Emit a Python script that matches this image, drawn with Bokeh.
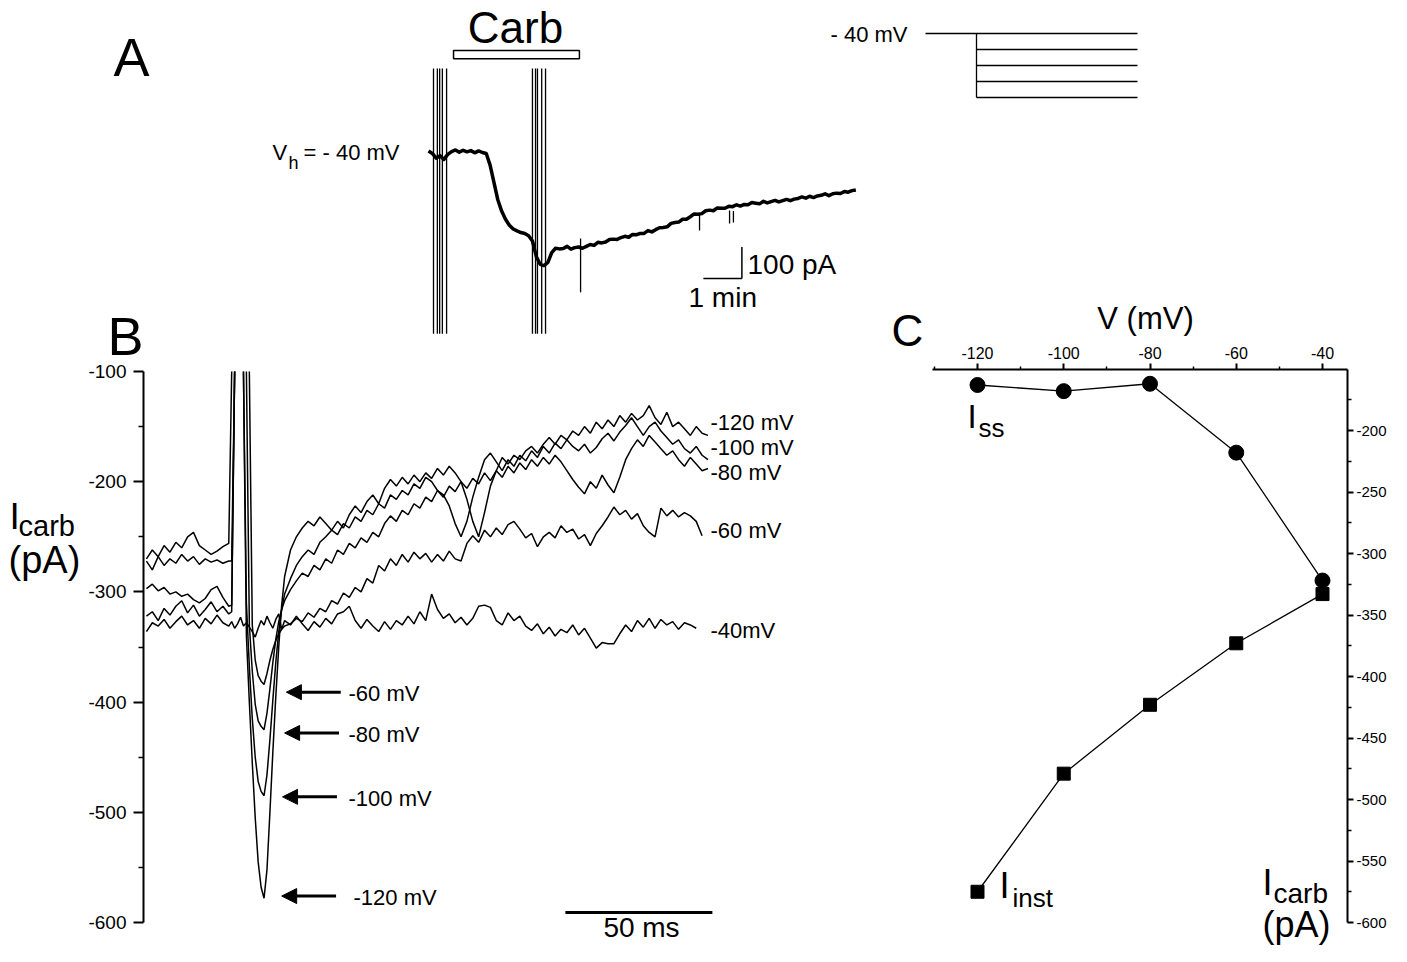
import numpy as np
from bokeh.plotting import figure
from bokeh.models import Range1d, LinearAxis, FixedTicker, Label, Arrow, NormalHead
from bokeh.embed import file_html
from bokeh.resources import INLINE

nan = float("nan")

# ---------------- Panel A: holding current (pA, relative) vs time (min) ----------------
A_t = [0.0, 0.1, 0.2, 0.3, 0.4, 0.5, 0.6, 0.7, 0.8, 0.9,
       1.0, 1.1, 1.2, 1.3, 1.4, 1.5, 1.6, 1.7, 1.8, 1.9,
       2.0, 2.1, 2.2, 2.3, 2.4, 2.5, 2.6, 2.7, 2.8, 2.9,
       3.0, 3.1, 3.2, 3.3, 3.4, 3.5, 3.6, 3.7, 3.8, 3.9,
       4.0, 4.1, 4.2, 4.3, 4.4, 4.5, 4.6, 4.7, 4.8, 4.9,
       5.0, 5.1, 5.2, 5.3, 5.4, 5.5, 5.6, 5.7, 5.8, 5.9,
       6.0, 6.1, 6.2, 6.3, 6.4, 6.5, 6.6, 6.7, 6.8, 6.9,
       7.0, 7.1, 7.2, 7.3, 7.4, 7.5, 7.6, 7.7, 7.8, 7.9,
       8.0, 8.1, 8.2, 8.3, 8.4, 8.5, 8.6, 8.7, 8.8, 8.9,
       9.0, 9.1, 9.2, 9.3, 9.4, 9.5, 9.6, 9.7, 9.8, 9.9,
       10.0, 10.1, 10.2, 10.3, 10.4, 10.5, 10.6, 10.7, 10.8, 10.9,
       11.0, 11.1]
A_i = [5, -3, -18, -10, -22, -6, 3, 8, 1, 7,
       2, 6, -1, 5, 0, -3, -40, -95, -150, -186,
       -212, -231, -243, -249, -254, -257, -264, -281, -330, -355,
       -359, -349, -318, -304, -306, -305, -298, -307, -302, -300,
       -304, -298, -292, -295, -285, -287, -284, -276, -275, -276,
       -270, -266, -269, -260, -261, -257, -257, -248, -252, -245,
       -239, -238, -236, -225, -222, -221, -212, -212, -204, -195,
       -196, -194, -185, -183, -185, -176, -177, -177, -171, -172,
       -166, -170, -165, -166, -159, -161, -163, -155, -160, -156,
       -152, -157, -153, -149, -153, -148, -146, -141, -145, -139,
       -143, -138, -136, -131, -137, -131, -129, -130, -124, -126,
       -121, -119]
A_steps_t1 = [0.13, 0.23, 0.29, 0.36, 0.47]
A_steps_t2 = [2.70, 2.78, 2.83, 2.94, 3.04]
A_steps_top, A_steps_bottom = 267, -575
A_glitch_t = [3.95, 7.04, 7.82, 7.92]
A_glitch_hi = [-273, -194, -184, -186]
A_glitch_lo = [-444, -248, -225, -222]
carb_on, carb_off = 0.65, 3.92

# voltage protocol (mV)
P_hold = -40
P_levels = [-60, -80, -100, -120]

# ---------------- Panel B: I_carb traces (pA) vs time (ms) ----------------
B_t = [1, 3, 5, 7, 9, 11, 13, 15, 17, 19, 21, 23, 25, 27, 29,
       30, 31, 32, 33, 34, 35, 36, 37, 38, 39, 40, 41, 42, 43, 44, 45, 46, 47, 48,
       50, 52, 54, 56, 58, 60, 62, 64, 66,
       68, 70, 72, 74, 76, 78, 80, 82, 84,
       86, 88, 90, 92, 94, 96, 98, 100, 102,
       104, 106, 108, 110, 112, 114, 116, 118, 120,
       122, 124, 126, 128, 130, 132, 134, 136, 138,
       140, 142, 144, 146, 148, 150, 152, 154, 156,
       158, 160, 162, 164, 166, 168, 170, 172, 174,
       176, 178, 180, 182, 184, 186, 188, 190, 192]

B_m40 = [-336, -328, -331, -325, -333, -327, -322, -330, -326, -333, -324, -329, -321, -328, -331,
         -327, -333, -329, -323, -331, -328, -332, -336, -341, -333, -326, -330, -322, -328, -333, -325, -320, -334, -326,
         -330, -322, -329, -335, -327, -332, -324, -329, -320,
         -318, -313, -326, -333, -325, -331, -336, -327, -334,
         -326, -330, -322, -329, -318, -326, -302, -316, -324,
         -320, -328, -323, -330, -324, -313, -312, -314, -326,
         -330, -319, -326, -322, -331, -335, -329, -338, -332,
         -340, -334, -337, -330, -339, -333, -342, -351, -346,
         -347, -347, -338, -330, -336, -326, -332, -324, -333,
         -325, -330, -327, -334, -328, -330, -333, nan, nan]

B_m60 = [-322, -318, -326, -315, -321, -313, -308, -319, -312, -322, -316, -309, -318, -313, -320,
         -318, -100, nan, nan, nan, nan, -100, -330, -362, -376, -381, -384, -374, -362, -352, -344, -338, -334, -331,
         -329, -324, -327, -319, -323, -315, -318, -308, -311,
         -301, -305, -296, -300, -288, -292, -276, -281, -270,
         -276, -266, -273, -264, -270, -265, -273, -266, -272,
         -263, -270, -272, -256, -249, -255, -244, -250, -242,
         -248, -239, -236, -243, -251, -247, -259, -250, -246,
         -251, -240, -246, -243, -252, -248, -258, -247, -240,
         -232, -223, -230, -226, -234, -229, -240, -246, -250,
         -224, -231, -226, -232, -228, -231, -236, -249, nan]

B_m80 = [-297, -293, -299, -296, -302, -300, -304, -302, -307, -310, -306, -298, -295, -305, -313,
         -312, -100, nan, nan, nan, -100, -330, -372, -402, -417, -422, -425, -410, -388, -364, -343, -327, -316, -308,
         -298, -290, -283, -286, -276, -280, -270, -274, -262,
         -266, -256, -260, -251, -255, -246, -250, -238, -231,
         -236, -226, -230, -220, -224, -214, -218, -208, -214,
         -204, -209, -200, -206, -197, -202, -192, -199, -190,
         -196, -186, -192, -183, -189, -180, -186, -178, -184,
         -176, -182, -190, -198, -205, -211, -200, -206, -194,
         -203, -210, -196, -180, -170, -162, -168, -158, -164,
         -170, -176, -172, -180, -186, -178, -184, -190, -188]

B_m100 = [-272, -280, -268, -276, -270, -274, -266, -272, -268, -275, -270, -273, -271, -274, -272,
          -272, -100, nan, nan, -100, -310, -368, -415, -450, -472, -481, -485, -466, -434, -398, -364, -336, -316, -302,
          -288, -276, -268, -262, -266, -255, -250, -244, -248,
          -238, -242, -232, -236, -226, -230, -220, -224, -212,
          -216, -208, -212, -202, -206, -196, -200, -208, -212,
          -222, -238, -250, -236, -214, -196, -180, -174, -182,
          -190, -180, -186, -176, -181, -172, -178, -168, -174,
          -165, -170, -162, -168, -172, -166, -174, -169, -161,
          -156, -163, -155, -149, -142, -150, -158, -150, -146,
          -154, -160, -166, -162, -170, -174, -168, -176, -180]

B_m120 = [-270, -262, -268, -258, -264, -255, -260, -250, -246, -258, -262, -266, -263, -259, -256,
          -100, nan, nan, nan, -100, -340, -400, -455, -505, -545, -568, -578, -552, -500, -445, -395, -350, -312, -286,
          -262, -250, -242, -236, -240, -232, -238, -244, -236,
          -242, -230, -222, -228, -218, -212, -220, -206, -198,
          -204, -196, -202, -194, -200, -192, -197, -188, -194,
          -186, -192, -200, -216, -236, -250, -228, -204, -190,
          -178, -184, -176, -180, -172, -168, -174, -166, -160,
          -166, -158, -162, -154, -158, -150, -156, -146, -152,
          -144, -150, -140, -146, -138, -144, -140, -131, -142,
          -148, -137, -150, -146, -152, -158, -150, -156, -158]

B_peak_mV = ["-60 mV", "-80 mV", "-100 mV", "-120 mV"]
B_end_labels = ["-120 mV", "-100 mV", "-80 mV", "-60 mV", "-40mV"]
B_ticks = [-100, -200, -300, -400, -500, -600]

# ---------------- Panel C: I-V relation ----------------
C_V = [-120, -100, -80, -60, -40]
C_Iss = [-163, -168, -162, -218, -322]
C_Iinst = [-575, -479, -423, -373, -333]
C_xticks = [-120, -100, -80, -60, -40]
C_yticks = [-200, -250, -300, -350, -400, -450, -500, -550, -600]

# ---------------- figure: one canvas, panels on their own scales ----------------
W, H = 1391, 946
X_LO, X_HI = 0, W          # reference-pixel extents of the frame
Y_LO, Y_HI = H, 0


def span(v0, p0, v1, p1, lo, hi):
    k = (v1 - v0) / (p1 - p0)
    return Range1d(start=v0 + (lo - p0) * k, end=v0 + (hi - p0) * k)


p = figure(width=W, height=H, output_backend="svg", toolbar_location=None,
           x_range=Range1d(X_LO, X_HI), y_range=Range1d(Y_LO, Y_HI),
           x_axis_location=None, y_axis_location=None, min_border=0,
           outline_line_color=None, background_fill_color="white",
           border_fill_color="white")
p.grid.visible = False

p.extra_x_ranges = {
    "Ax": span(0, 428, 1, 466.5, X_LO, X_HI),
    "Bx": span(0, 143, 50, 290, X_LO, X_HI),
    "Cx": span(-120, 977, -40, 1322, X_LO, X_HI),
    "Px": span(0, 976, 150, 1137, X_LO, X_HI),
}
p.extra_y_ranges = {
    "Ay": span(0, 152, -100, 183.5, Y_LO, Y_HI),
    "By": span(-100, 371, -600, 922, Y_LO, Y_HI),
    "Cy": span(-200, 430, -600, 922, Y_LO, Y_HI),
    "Py": span(-40, 33, -120, 97, Y_LO, Y_HI),
}

FONT = "Liberation Sans"


def lab(text, x, base, size, align="left"):
    # the label anchor sits at the middle of the text box: lift it from the baseline
    p.add_layout(Label(x=x, y=base - 0.37 * size, text=text, text_font=FONT,
                       text_font_size=f"{size}px", text_align=align,
                       text_baseline="alphabetic", text_color="black"))


def style_axis(ax, tick_out, minor_out, standoff, size, ticks):
    ax.axis_line_color = "black"
    ax.axis_line_width = 2
    ax.major_tick_line_color = "black"
    ax.major_tick_line_width = 2
    ax.minor_tick_line_color = "black"
    ax.minor_tick_line_width = 1.5
    ax.major_tick_in = 0
    ax.major_tick_out = tick_out
    ax.minor_tick_in = 0
    ax.minor_tick_out = minor_out
    ax.major_label_standoff = standoff
    ax.major_label_text_font = FONT
    ax.major_label_text_font_size = f"{size}px"
    ax.major_label_text_color = "black"
    ax.major_label_overrides = {t: str(t) for t in ticks}


# ---- Panel A ----
AK = dict(x_range_name="Ax", y_range_name="Ay")
steps = A_steps_t1 + A_steps_t2
p.segment(x0=steps, x1=steps, y0=[A_steps_top] * len(steps), y1=[A_steps_bottom] * len(steps),
          line_color="black", line_width=1.3, **AK)
p.line(A_t, A_i, line_color="black", line_width=3.5, line_join="round", **AK)
p.segment(x0=A_glitch_t, x1=A_glitch_t, y0=A_glitch_hi, y1=A_glitch_lo,
          line_color="black", line_width=1.3, **AK)
p.quad(left=[carb_on], right=[carb_off], top=[324], bottom=[298],
       fill_color="white", line_color="black", line_width=1.5, **AK)
# scale bars: 1 min, 100 pA
p.segment(x0=[7.14, 8.14], y0=[-400, -400], x1=[8.14, 8.14], y1=[-400, -300],
          line_color="black", line_width=1.5, **AK)

lab("A", 113, 76, 54)
lab("Carb", 515, 43, 44, align="center")
lab("V", 272, 160, 22)
lab("h", 288, 169, 18)
lab("= - 40 mV", 303, 160, 22)
lab("100 pA", 747, 274, 28)
lab("1 min", 688, 307, 28)

# voltage protocol
PK = dict(x_range_name="Px", y_range_name="Py")
p.segment(x0=[-47.5, 0], y0=[P_hold, P_hold], x1=[150, 0], y1=[P_hold, min(P_levels)],
          line_color="black", line_width=1.3, **PK)
p.segment(x0=[0] * len(P_levels), x1=[150] * len(P_levels), y0=P_levels, y1=P_levels,
          line_color="black", line_width=1.3, **PK)
lab("- 40 mV", 830, 42, 22)

# ---- Panel B ----
BK = dict(x_range_name="Bx", y_range_name="By")
for tr in (B_m40, B_m60, B_m80, B_m100, B_m120):
    p.line(B_t, tr, line_color="black", line_width=1.5, **BK)

ax_b = LinearAxis(fixed_location=0, bounds=(-600, -100),
                  ticker=FixedTicker(ticks=B_ticks, minor_ticks=[-150, -250, -350, -450, -550]), **BK)
style_axis(ax_b, 10, 5, 7, 19, B_ticks)
p.add_layout(ax_b, "left")

# arrows to the instantaneous peaks
arrow_y = [-391, -428, -486, -576]
arrow_tip = [48.6, 48.0, 47.3, 47.0]
for yv, tip in zip(arrow_y, arrow_tip):
    p.add_layout(Arrow(end=NormalHead(size=15, fill_color="black", line_color="black", line_width=1),
                       x_start=tip + 18.5, y_start=yv, x_end=tip, y_end=yv,
                       line_color="black", line_width=3, **BK))
for txt, yb, xl in zip(B_peak_mV, [701, 742, 806, 905], [348, 348, 348, 353]):
    lab(txt, xl, yb, 22)
for txt, yb in zip(B_end_labels, [430, 455, 480, 538, 638]):
    lab(txt, 710, yb, 22)

# 50 ms scale bar
p.segment(x0=[143.5], x1=[193.5], y0=[-591], y1=[-591], line_color="black", line_width=3, **BK)
lab("50 ms", 641, 937, 28, align="center")

lab("B", 107, 355, 54)
lab("I", 9, 530, 37)
lab("carb", 18, 536, 29)
lab("(pA)", 8, 574, 38)

# ---- Panel C ----
CK = dict(x_range_name="Cx", y_range_name="Cy")
p.line(C_V, C_Iss, line_color="black", line_width=1.3, **CK)
p.line(C_V, C_Iinst, line_color="black", line_width=1.3, **CK)
p.scatter(C_V, C_Iss, marker="circle", size=15, fill_color="black", line_color="black", **CK)
p.scatter(C_V, C_Iinst, marker="square", size=13, fill_color="black", line_color="black", **CK)

ax_cx = LinearAxis(fixed_location=-150, bounds=(-130.4, -34.2),
                   ticker=FixedTicker(ticks=C_xticks, minor_ticks=[-130, -110, -90, -70, -50]), **CK)
style_axis(ax_cx, 6, 3, 4, 16, C_xticks)
p.add_layout(ax_cx, "above")

ax_cy = LinearAxis(fixed_location=-34.2, bounds=(-600, -150),
                   ticker=FixedTicker(ticks=C_yticks,
                                      minor_ticks=[-175, -225, -275, -325, -375, -425, -475, -525, -575]),
                   **CK)
style_axis(ax_cy, 6, 4, 3, 15, C_yticks)
p.add_layout(ax_cy, "right")

lab("C", 891, 346, 44)
lab("V (mV)", 1145, 329, 31, align="center")
lab("I", 967, 428, 33)
lab("ss", 978, 437, 26)
lab("I", 999, 898, 36)
lab("inst", 1012, 907, 26)
lab("I", 1262, 895, 36)
lab("carb", 1273, 903, 28)
lab("(pA)", 1262, 937, 36)

open("out.html", "w").write(file_html(p, INLINE))
